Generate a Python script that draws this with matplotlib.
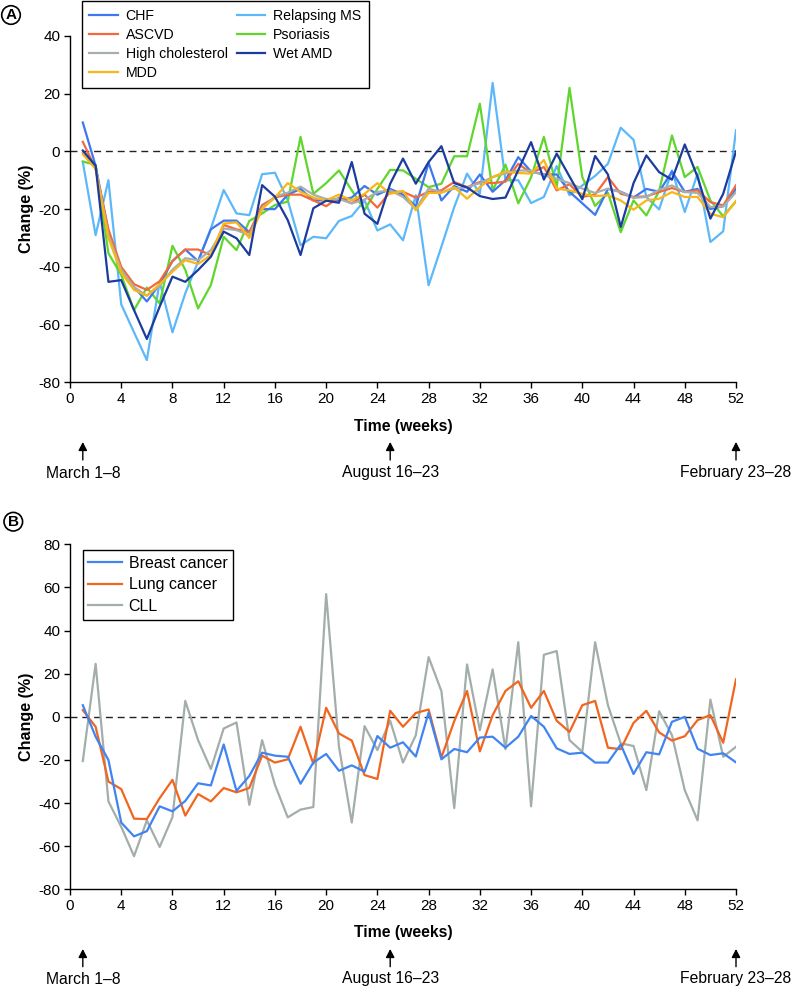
import matplotlib
matplotlib.use("Agg")
import matplotlib.pyplot as plt
from matplotlib.patches import FancyArrowPatch
from matplotlib.transforms import blended_transform_factory

plt.rcParams['font.family'] = ['Liberation Sans', 'DejaVu Sans']

weeks = list(range(1, 53))

# ---- Panel A data (% change) ----
chf = [10, -5, -28, -41, -47, -52, -46, -38, -34, -38, -27, -24, -24, -28, -20, -20, -15, -13, -17, -17,
       -17, -16, -12, -15, -13, -15, -19, -4, -17, -12, -14, -8, -14, -10, -2, -7, -8, -8, -14, -18,
       -22, -13, -14, -16, -13, -14, -7, -14, -13, -20, -19, -13]
ascvd = [3.3, -6, -27, -40, -46, -48, -45, -38, -34, -34, -36, -25.5, -27, -28, -18.6, -16, -15, -15, -17, -19,
         -16, -18, -15, -19.5, -14, -14, -16, -14, -13.5, -10.6, -12.4, -10.6, -11, -10.5, -4.3, -7.5, -5.4, -13.5, -11.4, -15.8,
         -14.9, -8.9, -14.7, -15.8, -15.6, -14.1, -12.7, -14.1, -13.5, -17.6, -18.7, -11.8]
high_chol = [-0.5, -6, -29, -41, -47, -50, -46.5, -41, -37, -37.7, -34.2, -26.7, -27.3, -29, -19.7, -15.7, -14.3, -12.2, -15, -16.5,
             -16.5, -18, -16.7, -14.1, -13.5, -15.8, -19.9, -12.9, -14.1, -12.9, -12.4, -11, -8.9, -7.6, -6.6, -6.7, -8.3, -9.5, -11, -12.9,
             -14.4, -12.9, -14.1, -16.1, -15.8, -13.3, -11.8, -14.1, -14.4, -19.3, -19.1, -14.1]
mdd = [-1, -6, -30, -42, -48, -50, -46, -41.7, -37.7, -39, -35.9, -25, -24.6, -30, -20, -16, -11, -14, -16, -17,
       -15, -17, -14.7, -11, -14.7, -13.7, -20.4, -14.4, -14.4, -12.4, -16.4, -12.4, -8.9, -7, -7.5, -7.7, -3, -12.9, -13.5, -14.7,
       -15.5, -15.2, -17, -20.2, -17, -16.4, -14.1, -15.8, -15.8, -21.6, -22.8, -17.2]
relapsing_ms = [-3.7, -29, -10, -53, -62.7, -72.3, -45.2, -62.7, -49.2, -38.2, -26.7, -13.4, -21.5, -22.1, -7.9, -7.4, -16.9, -32.5, -29.6, -30.1,
                -24.1, -22.4, -17, -27.4, -25.3, -30.8, -15.2, -46.4, -33, -19.3, -7.7, -14.7, 23.7, -10, -10, -17.9, -15.8, -5.1, -15.2, -11.8,
                -8.5, -4.3, 8.2, 4, -15.8, -20.1, -6.6, -21, -7.7, -31.4, -27.7, 7.3]
psoriasis = [-3.5, -4.7, -35.3, -42.8, -55, -47.2, -52.7, -32.7, -41, -54.4, -46.3, -29.6, -34.2, -24.1, -21.5, -18.6, -17.4, 5, -14.7, -11,
             -6.6, -13.5, -20.3, -13, -6.4, -6.6, -9.5, -12.4, -11.2, -1.7, -1.7, 16.5, -13.5, -4.6, -18, -9, 5, -12.4, 22, -8.9,
             -18.9, -14.4, -28, -17, -22.2, -13.7, 5.5, -8.9, -5.4, -17, -22.5, -17.3]
wet_amd = [0.3, -5, -45.2, -44.6, -55, -65, -53.8, -43.4, -45.2, -41.1, -36.5, -27.8, -30.1, -35.9, -11.7, -15.7, -23.8, -35.9, -19.7, -17.1,
           -17.8, -3.7, -21.6, -25.1, -11.2, -2.5, -11.2, -3.7, 1.8, -11, -12.5, -15.5, -16.5, -16, -6.5, 3.2, -9.8, -0.8, -8.7, -16.6,
           -1.6, -8, -26.2, -11, -1.4, -7.2, -9.8, 2.4, -8.9, -23.3, -14.7, 0]

# ---- Panel B data (% change) ----
breast = [5.4, -9.2, -20, -49, -55.4, -53, -41.5, -43.8, -39, -30.8, -31.8, -12.8, -34.3, -27.4, -16.6, -18, -18.5, -31, -21.2, -17.2,
          -25, -22.5, -25.4, -8.9, -14.3, -11.8, -18.4, 2, -19.7, -14.9, -16.4, -9.6, -9.2, -14.3, -9.2, 0.4, -4.6, -14.6, -17.2, -16.6,
          -21.2, -21.2, -12.8, -26.5, -16.4, -17.4, -2.3, 0, -14.8, -17.7, -16.9, -21.1]
lung = [3.1, -4.6, -30, -33.5, -47.2, -47.4, -37.7, -29.2, -45.8, -35.8, -39.2, -33, -35, -33, -18, -21.2, -19.7, -4.6, -21.8, 4.2,
        -7.7, -11, -27, -28.8, 2.8, -4.6, 1.8, 3.4, -18.8, -2, 12, -16, 0.8, 12, 16.5, 4.2, 12, -1.8, -7, 5.4,
        7.4, -14.3, -15, -2.8, 2.8, -7.2, -11, -9, -1.5, 0.8, -12, 17.4]
cll = [-20.5, 24.6, -39.2, -51, -64.6, -48, -60.3, -46.5, 7.4, -10.8, -24.2, -5.4, -2.6, -40.8, -10.8, -31.5, -46.6, -43, -41.8, 56.9,
       -13.8, -49, -4.3, -15.4, -1.8, -21.2, -8.5, 27.7, 11.9, -42.3, 24.3, -6.2, 22, -15, 34.6, -41.5, 28.8, 30.5, -10.8, -16.2,
       34.6, 5.4, -12.3, -13.5, -34, 2.6, -8.5, -34, -48, 8, -18.5, -13.9]

xticks = list(range(0, 53, 4))
milestone_weeks = [1, 25, 52]
milestone_labels = ["March 1\u20138", "August 16\u201323", "February 23\u201328"]

W, H = 794, 989
fig = plt.figure(figsize=(W / 100, H / 100), dpi=100)


def fy(py):
    return 1 - py / H


def style_axes(ax, ylim, yticks):
    ax.set_xlim(0, 52)
    ax.set_ylim(*ylim)
    ax.set_xticks(xticks)
    ax.set_yticks(yticks)
    ax.set_yticklabels([str(v) for v in yticks])
    for s in ['top', 'right']:
        ax.spines[s].set_visible(False)
    for s in ['left', 'bottom']:
        ax.spines[s].set_linewidth(1.0)
    ax.tick_params(direction='out', length=4, width=1, labelsize=11, pad=3)
    ax.axhline(0, color='#222222', lw=1.0, linestyle=(0, (5, 3.5)), zorder=1)
    ax.set_ylabel("Change (%)", fontsize=11.6, fontweight='bold', labelpad=3)


def milestones(ax, y_label_px, y_tail_px, y_head_px, y_text_px):
    tr = blended_transform_factory(ax.transData, fig.transFigure)
    fig.text(0.5 * (70 + 736) / W, fy(y_label_px), "Time (weeks)", ha='center', va='center',
             fontsize=11.3, fontweight='bold')
    for wk, lab in zip(milestone_weeks, milestone_labels):
        arr = FancyArrowPatch((wk, fy(y_tail_px)), (wk, fy(y_head_px)), transform=tr,
                              arrowstyle='-|>,head_length=5,head_width=2.6', color='black',
                              lw=1.0, clip_on=False, shrinkA=0, shrinkB=0)
        fig.add_artist(arr)
        fig.text(wk, fy(y_text_px), lab, transform=tr, ha='center', va='center', fontsize=11.3)


# ---------------- Panel A ----------------
axA = fig.add_axes([70 / W, fy(382.3), (736 - 70) / W, (382.3 - 35.9) / H])
style_axes(axA, (-80, 40), [-80, -60, -40, -20, 0, 20, 40])
lw = 1.6
lA = {}
lA['Relapsing MS'], = axA.plot(weeks, relapsing_ms, color='#5cb8f8', lw=lw)
lA['Psoriasis'], = axA.plot(weeks, psoriasis, color='#5fd62c', lw=lw)
lA['CHF'], = axA.plot(weeks, chf, color='#3d78f0', lw=lw)
lA['ASCVD'], = axA.plot(weeks, ascvd, color='#f4693b', lw=lw)
lA['High cholesterol'], = axA.plot(weeks, high_chol, color='#a7afae', lw=lw)
lA['MDD'], = axA.plot(weeks, mdd, color='#f8b617', lw=lw)
lA['Wet AMD'], = axA.plot(weeks, wet_amd, color='#1b3b9e', lw=lw)
order = ['CHF', 'ASCVD', 'High cholesterol', 'MDD', 'Relapsing MS', 'Psoriasis', 'Wet AMD']
legA = fig.legend([lA[k] for k in order], order, loc='upper left',
                  bbox_to_anchor=(81.7 / W, fy(1)), ncol=2, fontsize=10.2,
                  frameon=True, fancybox=False, edgecolor='black', framealpha=1,
                  handlelength=2.0, handletextpad=0.55, columnspacing=0.65,
                  labelspacing=0.36, borderpad=0.55, borderaxespad=0)
legA.get_frame().set_linewidth(1.0)
milestones(axA, 426.7, 460, 442, 473)

# ---------------- Panel B ----------------
axB = fig.add_axes([70 / W, fy(889.4), (736 - 70) / W, (889.4 - 544.3) / H])
style_axes(axB, (-80, 80), [-80, -60, -40, -20, 0, 20, 40, 60, 80])
lB = []
lB.append(axB.plot(weeks, cll, color='#a3aeab', lw=lw, label='CLL')[0])
lB.append(axB.plot(weeks, lung, color='#f2651f', lw=lw, label='Lung cancer')[0])
lB.append(axB.plot(weeks, breast, color='#4084f2', lw=lw, label='Breast cancer')[0])
legB = axB.legend([lB[2], lB[1], lB[0]], ['Breast cancer', 'Lung cancer', 'CLL'],
                  loc='upper left', bbox_to_anchor=(82.7 / W, fy(550)),
                  bbox_transform=fig.transFigure, fontsize=11.5,
                  frameon=True, fancybox=False, edgecolor='black', framealpha=1,
                  handlelength=2.1, handletextpad=0.42, labelspacing=0.42,
                  borderpad=0.35, borderaxespad=0)
legB.get_frame().set_linewidth(1.0)
milestones(axB, 933, 966.7, 949, 979)

# panel letters
for letter, (px, py) in {'A': (11, 15), 'B': (13.3, 521.7)}.items():
    fig.text(px / W, fy(py), letter, ha='center', va='center', fontsize=11, fontweight='bold',
             bbox=dict(boxstyle='circle,pad=0.15', fc='white', ec='black', lw=1.2))

fig.savefig('out.png', dpi=100)
